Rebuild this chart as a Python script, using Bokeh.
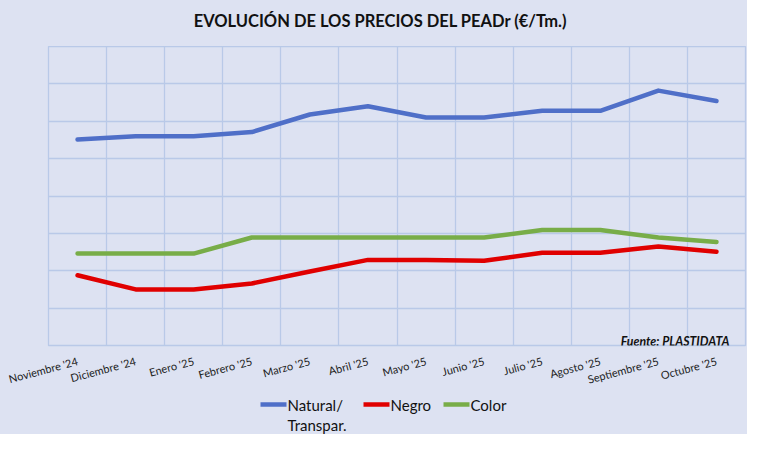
from bokeh.plotting import figure
from bokeh.models import FixedTicker, Label, Range1d
from bokeh.layouts import column
from bokeh.core.properties import value
from bokeh.embed import file_html
from bokeh.resources import INLINE
import math

months = ["Noviembre '24", "Diciembre '24", "Enero '25", "Febrero '25", "Marzo '25", "Abril '25",
          "Mayo '25", "Junio '25", "Julio '25", "Agosto '25", "Septiembre '25", "Octubre '25"]
natural = [551, 560, 560, 571, 618, 640, 610, 610, 628, 628, 682, 654]
negro = [188, 150, 150, 166, 198, 229, 229, 227, 248, 248, 265, 251]
color = [246, 246, 246, 289, 289, 289, 289, 289, 309, 309, 289, 277]
series_names = ["Natural/\nTranspar.", "Negro", "Color"]
series_colors = ["#4f6fc8", "#e00000", "#78ad48"]
title_text = "EVOLUCIÓN DE LOS PRECIOS DEL PEADr (€/Tm.)"
source_text = "Fuente: PLASTIDATA"

BG = "#dde2f2"
GRID = "#b9c9e8"
FONT = "Lato"
W = 747
BL, BR = 48, 2
TH, MH, LH = 46, 348, 40          # title strip, main chart, legend strip heights
xs = list(range(len(months)))


def strip(height):
    f = figure(width=W, height=height, output_backend="svg", toolbar_location=None,
               x_axis_location=None, y_axis_location=None,
               x_range=Range1d(BL, W - BR), y_range=Range1d(0, height),
               background_fill_color=BG, border_fill_color=BG, outline_line_color=None,
               min_border_left=BL, min_border_right=BR, min_border_top=0, min_border_bottom=0)
    f.grid.visible = False
    return f


# title strip
tt = strip(TH)
tt.text([380], [TH - 20.5], text=[title_text], text_align="center", text_baseline="middle",
        text_font=value(FONT), text_font_size="16.5px", text_font_style="bold", text_color="#111111")

# main chart
p = figure(width=W, height=MH, output_backend="svg", toolbar_location=None,
           x_range=Range1d(-0.5, len(months) - 0.5), y_range=Range1d(0, 800),
           background_fill_color=BG, border_fill_color=BG,
           outline_line_color=GRID, outline_line_width=1.3,
           min_border_left=BL, min_border_right=BR, min_border_top=0, min_border_bottom=48)

for vals, col in zip([natural, negro, color], series_colors):
    p.line(xs, vals, line_color=col, line_width=4.5, line_join="round", line_cap="round")

p.xaxis.ticker = FixedTicker(ticks=xs)
p.xaxis.major_label_overrides = {i: m for i, m in enumerate(months)}
p.xaxis.major_label_orientation = math.radians(15)
p.xaxis.major_label_text_font = FONT
p.xaxis.major_label_text_font_size = "11px"
p.xaxis.major_label_text_color = "#222222"
p.xaxis.axis_line_color = None
p.xaxis.major_tick_line_color = None
p.xaxis.minor_tick_line_color = None
p.xaxis.major_tick_out = 0
p.xaxis.major_tick_in = 0
p.xaxis.major_label_standoff = 15
p.yaxis.visible = False

p.xgrid.ticker = FixedTicker(ticks=[i - 0.5 for i in range(len(months) + 1)])
p.ygrid.ticker = FixedTicker(ticks=list(range(0, 801, 100)))
for g in (p.xgrid, p.ygrid):
    g.grid_line_color = GRID
    g.grid_line_width = 1.3

src = Label(x=11.225, y=12, text=source_text, text_align="right", text_baseline="alphabetic",
            text_font=FONT, text_font_size="12.3px", text_font_style="bold italic", text_color="#111111")
p.add_layout(src)

# legend strip (coordinates = page pixels)
lg = strip(LH)
sw_x = [260, 363, 443]
row_y = 30
for i, (name, col) in enumerate(zip(series_names, series_colors)):
    lg.line([sw_x[i], sw_x[i] + 26], [row_y, row_y], line_color=col, line_width=4.5)
    lines = name.split("\n")
    lg.text([sw_x[i] + 27] * len(lines), [row_y - 20 * k for k in range(len(lines))], text=lines,
            text_font=value(FONT), text_font_size="15px", text_baseline="middle",
            text_color="#111111")

layout = column(tt, p, lg, spacing=0, styles={"background": BG})
html = file_html(layout, INLINE)
html = html.replace("<body>", '<body style="background:%s">' % BG, 1)
open("out.html", "w").write(html)
